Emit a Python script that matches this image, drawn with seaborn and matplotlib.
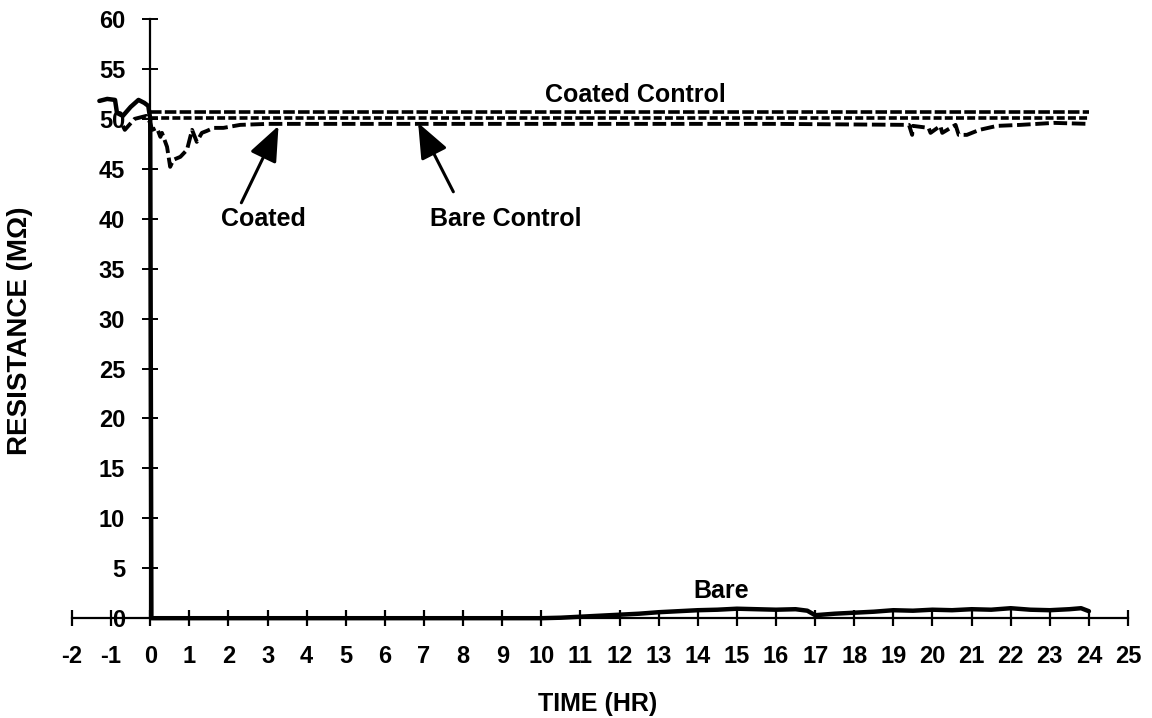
import matplotlib
matplotlib.use("Agg")
import matplotlib.pyplot as plt
import seaborn as sns
import pandas as pd

# Resistance readings (MOhm) against exposure time (hours)
bare_time = [-1.3, -1.1, -0.9, -0.85, -0.7, -0.5, -0.3, -0.15, -0.05, 0.0, 0.03,
             2.0, 4.0, 6.0, 8.0, 10.0, 10.5, 11.0, 12.0, 12.5, 13.0, 13.5, 14.0,
             14.5, 15.0, 15.5, 16.0, 16.5, 16.8, 17.0, 17.5, 18.0, 18.5, 19.0,
             19.5, 20.0, 20.5, 21.0, 21.5, 22.0, 22.5, 23.0, 23.5, 23.8, 24.0]
bare_res = [51.8, 52.0, 51.9, 50.6, 50.3, 51.2, 51.9, 51.6, 51.3, 50.0, 0.0,
            0.0, 0.0, 0.0, 0.0, 0.0, 0.05, 0.15, 0.35, 0.45, 0.6, 0.7, 0.8,
            0.85, 0.95, 0.9, 0.85, 0.9, 0.75, 0.3, 0.45, 0.55, 0.65, 0.8,
            0.75, 0.85, 0.8, 0.9, 0.85, 1.0, 0.85, 0.8, 0.9, 1.0, 0.7]

coated_time = [-0.7, -0.65, -0.4, -0.1, 0.0, 0.05, 0.17, 0.26, 0.3, 0.43, 0.51,
               0.59, 0.77, 0.94, 1.07, 1.19, 1.32, 1.45, 1.62, 1.87, 2.3, 3.0,
               5.0, 8.0, 12.0, 16.0, 19.4, 19.48, 19.5, 19.9, 19.95, 20.2,
               20.25, 20.59, 20.67, 20.88, 21.2, 21.65, 22.25, 23.1, 24.0]
coated_res = [49.3, 48.9, 50.0, 50.3, 49.6, 48.9, 49.1, 48.2, 48.6, 47.2, 45.2,
              45.9, 46.2, 46.9, 48.9, 47.7, 48.6, 48.8, 49.1, 49.1, 49.4, 49.5,
              49.5, 49.5, 49.5, 49.5, 49.4, 48.4, 49.3, 49.1, 48.6, 49.3,
              48.6, 49.4, 48.4, 48.4, 48.9, 49.3, 49.4, 49.6, 49.5]

coated_ctrl_time = [0.0, 6.0, 12.0, 18.0, 24.0]
coated_ctrl_res = [50.7, 50.7, 50.7, 50.7, 50.7]

bare_ctrl_time = [0.0, 6.0, 12.0, 18.0, 24.0]
bare_ctrl_res = [50.1, 50.1, 50.1, 50.1, 50.1]

x_ticks = list(range(-2, 26))
y_ticks = list(range(0, 61, 5))

sns.set_theme(style="white")
plt.rcParams["font.family"] = ["Liberation Sans", "DejaVu Sans"]
plt.rcParams["font.weight"] = "bold"

fig = plt.figure(figsize=(11.52, 7.18), dpi=100)
ax = fig.add_axes([0.0625, 0.139, 0.9167, 0.8345])

def draw(t, r, **kw):
    df = pd.DataFrame({"t": t, "r": r})
    sns.lineplot(data=df, x="t", y="r", ax=ax, sort=False, estimator=None,
                 color="black", clip_on=False, **kw)

draw(coated_ctrl_time, coated_ctrl_res, linewidth=2.6, dashes=(3.2, 0.9))
draw(bare_ctrl_time, bare_ctrl_res, linewidth=2.6, dashes=(2.2, 0.9))
draw(coated_time, coated_res, linewidth=2.8, dashes=(3.5, 1.2))
draw(bare_time, bare_res, linewidth=3.2)

ax.set_xlim(-2, 25)
ax.set_ylim(0, 60)
ax.set_xticks(x_ticks)
ax.set_yticks(y_ticks)
ax.set_xticklabels([str(v) for v in x_ticks])
ax.set_yticklabels([str(v) for v in y_ticks])

for side in ("top", "right"):
    ax.spines[side].set_visible(False)
ax.spines["left"].set_position(("data", 0))
ax.spines["bottom"].set_position(("data", 0))
for side in ("left", "bottom"):
    ax.spines[side].set_color("black")
    ax.spines[side].set_linewidth(1.6)

ax.tick_params(axis="x", direction="inout", length=11, width=1.6, colors="black",
               labelsize=17, pad=14, bottom=True)
ax.tick_params(axis="y", direction="inout", length=12, width=1.4, colors="black",
               labelsize=17, pad=12, left=True)
for lbl in ax.get_xticklabels() + ax.get_yticklabels():
    lbl.set_fontweight("bold")

ax.set_xlabel("TIME (HR)", fontsize=18, fontweight="bold", color="black")
ax.set_ylabel("RESISTANCE (MΩ)", fontsize=20, fontweight="bold", color="black")
ax.xaxis.set_label_coords(0.498, -0.123)
ax.yaxis.set_label_coords(-0.037, 0.48)

label_kw = dict(fontsize=18, fontweight="bold", ha="center", va="center", color="black")
ax.text(12.4, 52.4, "Coated Control", **label_kw)
ax.text(2.9, 40.0, "Coated", **label_kw)
ax.text(9.1, 40.0, "Bare Control", **label_kw)
ax.text(14.6, 2.7, "Bare", **label_kw)

arrow_kw = dict(arrowstyle="-|>,head_length=1.35,head_width=0.55", color="black",
                lw=2.2, shrinkA=0, shrinkB=0, mutation_scale=16)
ax.annotate("", xy=(3.28, 49.3), xytext=(2.33, 41.6), arrowprops=arrow_kw)
ax.annotate("", xy=(6.85, 49.6), xytext=(7.75, 42.7), arrowprops=arrow_kw)

fig.savefig("out.png", dpi=100, facecolor="white")
